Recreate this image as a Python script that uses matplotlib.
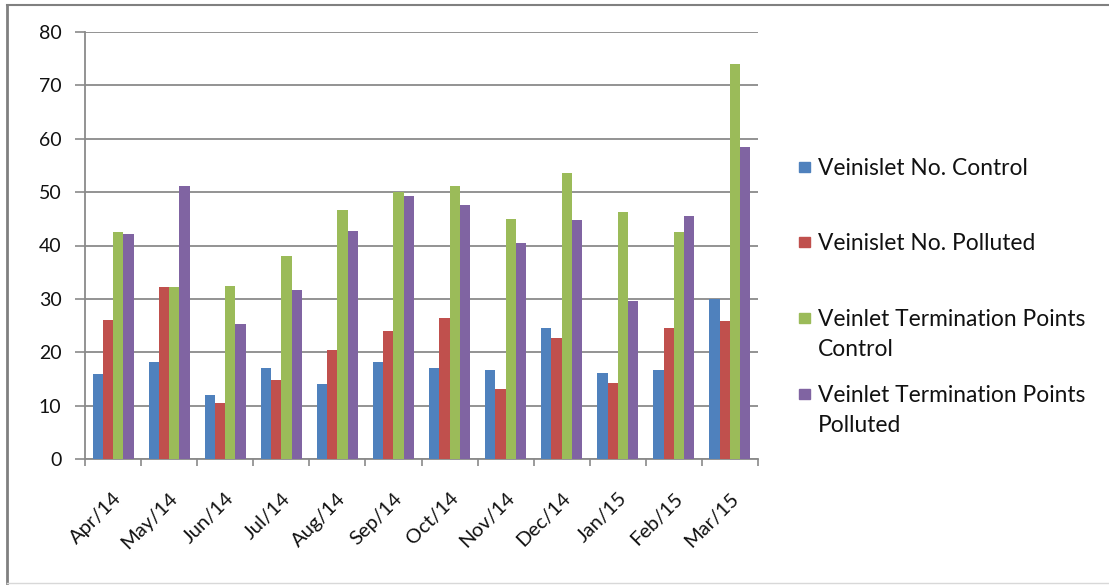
import matplotlib
matplotlib.use("Agg")
import matplotlib.pyplot as plt
import numpy as np
from matplotlib.patches import Rectangle
from matplotlib.lines import Line2D

months = ["Apr/14", "May/14", "Jun/14", "Jul/14", "Aug/14", "Sep/14",
          "Oct/14", "Nov/14", "Dec/14", "Jan/15", "Feb/15", "Mar/15"]
veinislet_control = [16.0, 18.2, 12.0, 17.0, 14.1, 18.2, 17.0, 16.6, 24.5, 16.1, 16.6, 30.0]
veinislet_polluted = [26.0, 32.2, 10.4, 14.8, 20.4, 24.0, 26.5, 13.2, 22.7, 14.2, 24.5, 25.9]
vtp_control = [42.5, 32.2, 32.4, 38.1, 46.7, 50.0, 51.2, 45.0, 53.6, 46.2, 42.6, 74.0]
vtp_polluted = [42.1, 51.2, 25.2, 31.7, 42.8, 49.2, 47.5, 40.5, 44.7, 29.6, 45.5, 58.4]
series_labels = ["Veinislet No. Control", "Veinislet No. Polluted",
                 "Veinlet Termination Points\nControl",
                 "Veinlet Termination Points\nPolluted"]
colors = ["#4F81BD", "#C0504D", "#9BBB59", "#8064A2"]
yticks = [0, 10, 20, 30, 40, 50, 60, 70, 80]

plt.rcParams['font.family'] = ['Lato', 'DejaVu Sans']
W, H = 1109, 586
fig = plt.figure(figsize=(W / 100, H / 100), dpi=100)
ax = fig.add_axes([85 / W, 1 - 459 / H, 673 / W, 427 / H])

series = [veinislet_control, veinislet_polluted, vtp_control, vtp_polluted]
x = np.arange(len(months))
bw = 0.183
for i, (vals, c) in enumerate(zip(series, colors)):
    ax.bar(x + (i - 1.5) * bw, vals, width=bw, color=c, linewidth=0, zorder=3)

ax.set_xlim(-0.5, len(months) - 0.5)
ax.set_ylim(0, 80)
ax.set_yticks(yticks)
ax.set_yticklabels([str(t) for t in yticks])
ax.yaxis.grid(True, color="#8a8a8a", linewidth=1.3, zorder=0)
ax.set_axisbelow(True)

ax.set_xticks(x)
ax.set_xticklabels(months, rotation=45, ha="right", va="top", rotation_mode="anchor")
ax.set_xticks(np.arange(len(months) + 1) - 0.5, minor=True)
ax.tick_params(axis="x", which="major", length=0, pad=22, labelsize=14.5, labelcolor="#111111")
ax.tick_params(axis="x", which="minor", length=5, width=1.2, color="#8a8a8a", direction="out")
ax.tick_params(axis="y", length=7, width=1.2, color="#8a8a8a", pad=10, labelsize=14, labelcolor="#111111")

for s in ["top", "right"]:
    ax.spines[s].set_visible(False)
for s in ["left", "bottom"]:
    ax.spines[s].set_color("#8a8a8a")
    ax.spines[s].set_linewidth(1.3)

# legend, placed manually
leg_y = [167, 242, 318, 394]
line_px = 30
for lab, c, yy in zip(series_labels, colors, leg_y):
    n_lines = lab.count("\n") + 1
    fig.patches.append(Rectangle((799 / W, 1 - (yy + 5) / H), 11 / W, 10 / H,
                                 transform=fig.transFigure, color=c, figure=fig))
    fig.text(818 / W, 1 - (yy + 8 + line_px * (n_lines - 1)) / H, lab, fontsize=16.4,
             color="#111111", ha="left", va="baseline", linespacing=1.5)

# outer frame
fig.add_artist(Line2D([7 / W, 1.0], [1 - 4.5 / H, 1 - 4.5 / H], transform=fig.transFigure,
                      color="#808080", linewidth=1.5))
fig.add_artist(Line2D([7 / W, 7 / W], [1 - 4.5 / H, 1 - 583 / H], transform=fig.transFigure,
                      color="#808080", linewidth=2))
fig.add_artist(Line2D([7 / W, 1.0], [1 - 583 / H, 1 - 583 / H], transform=fig.transFigure,
                      color="#d8d8d8", linewidth=1))

fig.savefig("out.png", dpi=100)
